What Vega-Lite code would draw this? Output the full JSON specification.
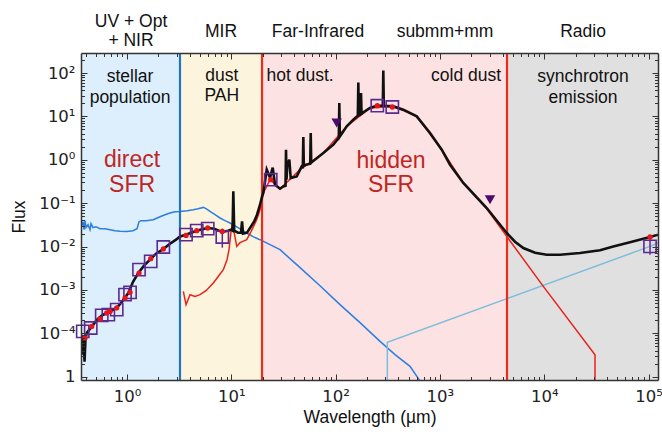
{
  "$schema": "https://vega.github.io/schema/vega-lite/v6.json",
  "width": 577,
  "height": 327,
  "autosize": {"type": "none"},
  "padding": {"left": 81, "top": 53, "right": 4, "bottom": 67},
  "background": "white",
  "config": {"view": {"stroke": null}, "font": "Liberation Sans"},
  "datasets": {
    "regions": [
      {"w": 0.3, "w2": 3.22, "r": "a"},
      {"w": 3.22, "w2": 19.7, "r": "b"},
      {"w": 19.7, "w2": 4400, "r": "c"},
      {"w": 4400, "w2": 200000, "r": "d"}
    ],
    "vlines": [
      {"w": 3.22, "k": "b"},
      {"w": 19.7, "k": "r"},
      {"w": 4400, "k": "r"}
    ],
    "curves": [
      {"c":"star","i":1,"w":0.3664,"f":0.03031},{"c":"star","i":2,"w":0.3787,"f":0.03746},{"c":"star","i":3,"w":0.3871,"f":0.02451},{"c":"star","i":4,"w":0.3957,"f":0.03952},{"c":"star","i":5,"w":0.4045,"f":0.02726},{"c":"star","i":6,"w":0.4227,"f":0.03196},{"c":"star","i":7,"w":0.4417,"f":0.02451},{"c":"star","i":8,"w":0.4516,"f":0.0337},{"c":"star","i":9,"w":0.4721,"f":0.02726},{"c":"star","i":10,"w":0.5044,"f":0.02874},{"c":"star","i":11,"w":0.5509,"f":0.02585},{"c":"star","i":12,"w":0.6153,"f":0.02585},{"c":"star","i":13,"w":0.6871,"f":0.02451},{"c":"star","i":14,"w":0.7672,"f":0.02325},{"c":"star","i":15,"w":0.8568,"f":0.02263},{"c":"star","i":16,"w":0.9934,"f":0.02239},{"c":"star","i":17,"w":1.142,"f":0.02325},{"c":"star","i":18,"w":1.247,"f":0.02585},{"c":"star","i":19,"w":1.303,"f":0.03746},{"c":"star","i":20,"w":1.362,"f":0.03952},{"c":"star","i":21,"w":1.521,"f":0.03952},{"c":"star","i":22,"w":1.787,"f":0.04167},{"c":"star","i":23,"w":2.072,"f":0.04886},{"c":"star","i":24,"w":2.313,"f":0.05433},{"c":"star","i":25,"w":2.584,"f":0.05942},{"c":"star","i":26,"w":2.885,"f":0.06369},{"c":"star","i":27,"w":3.223,"f":0.06474},{"c":"star","i":28,"w":3.761,"f":0.06719},{"c":"star","i":29,"w":4.322,"f":0.07085},{"c":"star","i":30,"w":4.795,"f":0.07468},{"c":"star","i":31,"w":5.389,"f":0.07998},{"c":"star","i":32,"w":5.72,"f":0.07468},{"c":"star","i":33,"w":6.248,"f":0.06474},{"c":"star","i":34,"w":6.98,"f":0.05433},{"c":"star","i":35,"w":7.793,"f":0.0456},{"c":"star","i":36,"w":8.701,"f":0.03952},{"c":"star","i":37,"w":9.716,"f":0.03497},{"c":"star","i":38,"w":11.6,"f":0.02726},{"c":"star","i":39,"w":14.05,"f":0.02058},{"c":"star","i":40,"w":16.15,"f":0.0169},{"c":"star","i":41,"w":18.85,"f":0.01442},{"c":"star","i":42,"w":23.5,"f":0.01106},{"c":"star","i":43,"w":29.31,"f":0.00848},{"c":"star","i":44,"w":45.59,"f":0.003266},{"c":"star","i":45,"w":70.86,"f":0.001257},{"c":"star","i":46,"w":110.2,"f":0.000459},{"c":"star","i":47,"w":171.3,"f":0.0001767},{"c":"star","i":48,"w":266.6,"f":0.0000654},{"c":"star","i":49,"w":371.1,"f":0.0000323},{"c":"star","i":50,"w":516.7,"f":0.0000174},{"c":"star","i":51,"w":644.6,"f":0.000008},
      {"c":"sync","i":1,"w":313.1,"f":0.000005},{"c":"sync","i":2,"w":313.1,"f":0.000062},{"c":"sync","i":3,"w":103400,"f":0.01011},{"c":"sync","i":4,"w":123300,"f":0.01211},
      {"c":"dust","i":1,"w":3.466,"f":0.000928},{"c":"dust","i":2,"w":3.679,"f":0.000459},{"c":"dust","i":3,"w":3.845,"f":0.000598},{"c":"dust","i":4,"w":4.018,"f":0.000779},{"c":"dust","i":5,"w":4.487,"f":0.000712},{"c":"dust","i":6,"w":5.011,"f":0.000779},{"c":"dust","i":7,"w":5.72,"f":0.000963},{"c":"dust","i":8,"w":6.722,"f":0.00145},{"c":"dust","i":9,"w":7.457,"f":0.00202},{"c":"dust","i":10,"w":8.38,"f":0.00294},{"c":"dust","i":11,"w":9.095,"f":0.00499},{"c":"dust","i":12,"w":9.505,"f":0.00848},{"c":"dust","i":13,"w":9.933,"f":0.02204},{"c":"dust","i":14,"w":10.27,"f":0.0337},{"c":"dust","i":15,"w":10.61,"f":0.02204},{"c":"dust","i":16,"w":11.27,"f":0.01011},{"c":"dust","i":17,"w":12.12,"f":0.0123},{"c":"dust","i":18,"w":14.05,"f":0.01442},{"c":"dust","i":19,"w":15.45,"f":0.02204},{"c":"dust","i":20,"w":17.52,"f":0.04167},{"c":"dust","i":21,"w":18.85,"f":0.07085},{"c":"dust","i":22,"w":20.27,"f":0.1718},{"c":"dust","i":23,"w":23.5,"f":0.3478},{"c":"dust","i":24,"w":29.31,"f":0.2158},{"c":"dust","i":25,"w":45.59,"f":0.5912},{"c":"dust","i":26,"w":76.23,"f":1.435},{"c":"dust","i":27,"w":127.8,"f":5.883},{"c":"dust","i":28,"w":213.7,"f":15.62},{"c":"dust","i":29,"w":357.5,"f":17.0},{"c":"dust","i":30,"w":599.3,"f":10.0},{"c":"dust","i":31,"w":1041,"f":1.709},{"c":"dust","i":32,"w":1676,"f":0.292},{"c":"dust","i":33,"w":2810,"f":0.0747},{"c":"dust","i":34,"w":4371,"f":0.01718},{"c":"dust","i":35,"w":9804,"f":0.00121},{"c":"dust","i":36,"w":30690,"f":0.0000323},{"c":"dust","i":37,"w":30690,"f":0.000005},
      {"c":"tot","i":1,"w":0.3664,"f":0.0000933},{"c":"tot","i":2,"w":0.3745,"f":0.0000323},{"c":"tot","i":3,"w":0.3829,"f":0.0000716},{"c":"tot","i":4,"w":0.3914,"f":0.0000223},{"c":"tot","i":5,"w":0.4001,"f":0.0000796},{"c":"tot","i":6,"w":0.4135,"f":0.000104},{"c":"tot","i":7,"w":0.4587,"f":0.000143},{"c":"tot","i":8,"w":0.5157,"f":0.000207},{"c":"tot","i":9,"w":0.5721,"f":0.000256},{"c":"tot","i":10,"w":0.6387,"f":0.000295},{"c":"tot","i":11,"w":0.7024,"f":0.000333},{"c":"tot","i":12,"w":0.7965,"f":0.000385},{"c":"tot","i":13,"w":0.8955,"f":0.000538},{"c":"tot","i":14,"w":1.029,"f":0.000853},{"c":"tot","i":15,"w":1.142,"f":0.00155},{"c":"tot","i":16,"w":1.283,"f":0.00246},{"c":"tot","i":17,"w":1.455,"f":0.00363},{"c":"tot","i":18,"w":1.662,"f":0.00499},{"c":"tot","i":19,"w":1.897,"f":0.00686},{"c":"tot","i":20,"w":2.229,"f":0.00881},{"c":"tot","i":21,"w":2.584,"f":0.01166},{"c":"tot","i":22,"w":2.95,"f":0.01442},{"c":"tot","i":23,"w":3.223,"f":0.01718},{"c":"tot","i":24,"w":3.679,"f":0.0188},{"c":"tot","i":25,"w":4.108,"f":0.02091},{"c":"tot","i":26,"w":4.659,"f":0.02325},{"c":"tot","i":27,"w":5.237,"f":0.02517},{"c":"tot","i":28,"w":6.018,"f":0.02683},{"c":"tot","i":29,"w":6.827,"f":0.02585},{"c":"tot","i":30,"w":7.623,"f":0.02325},{"c":"tot","i":31,"w":8.38,"f":0.02204},{"c":"tot","i":32,"w":9.298,"f":0.02325},{"c":"tot","i":33,"w":9.933,"f":0.02451},{"c":"tot","i":34,"w":10.27,"f":0.02325},{"c":"tot","i":35,"w":10.45,"f":0.187},{"c":"tot","i":36,"w":10.66,"f":0.02325},{"c":"tot","i":37,"w":11.6,"f":0.02091},{"c":"tot","i":38,"w":12.39,"f":0.02091},{"c":"tot","i":39,"w":12.67,"f":0.03806},{"c":"tot","i":40,"w":12.95,"f":0.01983},{"c":"tot","i":41,"w":14.14,"f":0.02091},{"c":"tot","i":42,"w":15.11,"f":0.02683},{"c":"tot","i":43,"w":16.51,"f":0.03746},{"c":"tot","i":44,"w":17.64,"f":0.05433},{"c":"tot","i":45,"w":18.85,"f":0.09236},{"c":"tot","i":46,"w":19.7,"f":0.1412},{"c":"tot","i":47,"w":20.27,"f":0.1718},{"c":"tot","i":48,"w":21.85,"f":0.5912},{"c":"tot","i":49,"w":23.5,"f":0.387},{"c":"tot","i":50,"w":24.94,"f":0.6577},{"c":"tot","i":51,"w":26.24,"f":0.2668},{"c":"tot","i":52,"w":29.31,"f":0.2158},{"c":"tot","i":53,"w":31.51,"f":0.2438},{"c":"tot","i":54,"w":33.09,"f":0.2531},{"c":"tot","i":55,"w":33.45,"f":1.7},{"c":"tot","i":56,"w":33.82,"f":0.3478},{"c":"tot","i":57,"w":34.43,"f":0.771},{"c":"tot","i":58,"w":35.98,"f":1.005},{"c":"tot","i":59,"w":37.11,"f":0.3808},{"c":"tot","i":60,"w":42.37,"f":0.4145},{"c":"tot","i":61,"w":47.32,"f":0.7047},{"c":"tot","i":62,"w":48.48,"f":0.6936},{"c":"tot","i":63,"w":49.02,"f":3.353},{"c":"tot","i":64,"w":49.56,"f":0.731},{"c":"tot","i":65,"w":52.03,"f":0.771},{"c":"tot","i":66,"w":57.07,"f":0.813},{"c":"tot","i":67,"w":57.7,"f":4.145},{"c":"tot","i":68,"w":58.35,"f":0.858},{"c":"tot","i":69,"w":76.23,"f":1.435},{"c":"tot","i":70,"w":95.05,"f":2.228},{"c":"tot","i":71,"w":107.3,"f":3.23},{"c":"tot","i":72,"w":108.5,"f":20.4},{"c":"tot","i":73,"w":109.7,"f":3.406},{"c":"tot","i":74,"w":127.8,"f":5.883},{"c":"tot","i":75,"w":147.8,"f":8.395},{"c":"tot","i":76,"w":163.3,"f":10.38},{"c":"tot","i":77,"w":165.1,"f":60.7},{"c":"tot","i":78,"w":166.9,"f":10.66},{"c":"tot","i":79,"w":173.3,"f":11.24},{"c":"tot","i":80,"w":175.2,"f":34.6},{"c":"tot","i":81,"w":177.2,"f":11.54},{"c":"tot","i":82,"w":184.3,"f":12.37},{"c":"tot","i":83,"w":213.7,"f":15.62},{"c":"tot","i":84,"w":247.8,"f":17.64},{"c":"tot","i":85,"w":283.5,"f":17.64},{"c":"tot","i":86,"w":286.6,"f":114.8},{"c":"tot","i":87,"w":289.8,"f":17.64},{"c":"tot","i":88,"w":357.5,"f":17.0},{"c":"tot","i":89,"w":445.8,"f":14.27},{"c":"tot","i":90,"w":599.3,"f":10.0},{"c":"tot","i":91,"w":803.9,"f":4.145},{"c":"tot","i":92,"w":1041,"f":1.709},{"c":"tot","i":93,"w":1250,"f":0.771},{"c":"tot","i":94,"w":1676,"f":0.292},{"c":"tot","i":95,"w":2810,"f":0.0775},{"c":"tot","i":96,"w":4371,"f":0.02058},{"c":"tot","i":97,"w":5248,"f":0.01297},{"c":"tot","i":98,"w":6303,"f":0.00928},{"c":"tot","i":99,"w":8163,"f":0.00723},{"c":"tot","i":100,"w":10570,"f":0.00651},{"c":"tot","i":101,"w":14170,"f":0.00651},{"c":"tot","i":102,"w":22040,"f":0.00712},{"c":"tot","i":103,"w":34280,"f":0.00826},{"c":"tot","i":104,"w":45970,"f":0.01011},{"c":"tot","i":105,"w":66460,"f":0.01263},{"c":"tot","i":106,"w":103400,"f":0.01664},{"c":"tot","i":107,"w":123300,"f":0.0188}
    ],
    "phot": [
      {"w":0.3762,"f":0.000111},{"w":0.4487,"f":0.000133},{"w":0.5721,"f":0.00026},{"w":0.6617,"f":0.00027},{"w":0.7965,"f":0.000352},{"w":0.9568,"f":0.000779},{"w":1.069,"f":0.000881},{"w":1.303,"f":0.00294},{"w":1.687,"f":0.00456},{"w":2.229,"f":0.00979},{"w":3.679,"f":0.0188},{"w":4.659,"f":0.02325},{"w":5.939,"f":0.02585},{"w":8.197,"f":0.01664},{"w":23.87,"f":0.3478},{"w":251.1,"f":17.64},{"w":349.7,"f":16.47},{"w":103400,"f":0.01011}
    ],
    "dots": [
      {"w":0.3957,"f":0.0000783},{"w":0.4587,"f":0.000145},{"w":0.5509,"f":0.000215},{"w":0.6387,"f":0.000295},{"w":0.6871,"f":0.000321},{"w":0.7965,"f":0.000385},{"w":0.9568,"f":0.000654},{"w":1.069,"f":0.000881},{"w":1.303,"f":0.00246},{"w":1.687,"f":0.00526},{"w":2.229,"f":0.00881},{"w":3.679,"f":0.01811},{"w":4.659,"f":0.02325},{"w":5.939,"f":0.02683},{"w":8.197,"f":0.02239},{"w":23.87,"f":0.3478},{"w":251.1,"f":17.64},{"w":349.7,"f":16.47},{"w":103400,"f":0.01664}
    ],
    "err": [
      {"w":8.197,"f":0.02585,"f2":0.00944},{"w":103400,"f":0.0152,"f2":0.00651}
    ],
    "uplim": [
      {"w":102.4,"f":7.046},{"w":3022,"f":0.1204}
    ],
    "labels": [
      {"t":"stellar","w":1.069,"f":82.2,"g":"reg"},
      {"t":"population","w":1.069,"f":26.97,"g":"reg"},
      {"t":"dust","w":8.09,"f":86.7,"g":"reg"},
      {"t":"PAH","w":8.09,"f":29.99,"g":"reg"},
      {"t":"hot dust.","w":45.59,"f":86.7,"g":"reg"},
      {"t":"cold dust","w":1780,"f":86.7,"g":"reg"},
      {"t":"synchrotron","w":23550,"f":82.2,"g":"reg"},
      {"t":"emission","w":23550,"f":26.97,"g":"reg"},
      {"t":"direct","w":1.117,"f":1.005,"g":"sfr"},
      {"t":"SFR","w":1.117,"f":0.2668,"g":"sfr"},
      {"t":"hidden","w":339.8,"f":0.953,"g":"sfr"},
      {"t":"SFR","w":339.8,"f":0.2668,"g":"sfr"},
      {"t":"UV + Opt","w":1.092,"f":1521,"g":"band"},
      {"t":"+ NIR","w":1.092,"f":554.6,"g":"band"},
      {"t":"MIR","w":7.96,"f":894.7,"g":"band"},
      {"t":"Far-Infrared","w":67.8,"f":894.7,"g":"band"},
      {"t":"submm+mm","w":1119,"f":894.7,"g":"band"},
      {"t":"Radio","w":23550,"f":894.7,"g":"band"}
    ]
  },
  "layer": [
    {
      "encoding": {
        "x": {
          "field": "w", "type": "quantitative",
          "scale": {"type": "log", "domain": [0.362, 123300], "nice": false, "zero": false},
          "axis": {
            "title": "Wavelength (µm)", "titleFont": "Liberation Sans", "titleFontSize": 17.5, "titleFontWeight": "normal", "titleColor": "#111", "titlePadding": 1,
            "values": [0.4,0.5,0.6,0.7,0.8,0.9,1,2,3,4,5,6,7,8,9,10,20,30,40,50,60,70,80,90,100,200,300,400,500,600,700,800,900,1000,2000,3000,4000,5000,6000,7000,8000,9000,10000,20000,30000,40000,50000,60000,70000,80000,90000,100000],
            "labelExpr": "datum.value == 1 ? '10⁰' : datum.value == 10 ? '10¹' : datum.value == 100 ? '10²' : datum.value == 1000 ? '10³' : datum.value == 10000 ? '10⁴' : datum.value == 100000 ? '10⁵' : ''",
            "labelFont": "DejaVu Sans", "labelFontSize": 16.5, "labelColor": "#222", "labelPadding": 14, "labelFlush": false, "labelOverlap": false, "labelBound": false,
            "tickSize": {"condition": {"test": "abs(log(datum.value)/LN10 - round(log(datum.value)/LN10)) < 0.000001", "value": -6}, "value": -3.5},
            "tickColor": "#333", "tickWidth": 1,
            "domain": true, "domainColor": "#333", "domainWidth": 1.5,
            "grid": false, "zindex": 1
          }
        }
      },
      "layer": [
        {
          "data": {"name": "regions"},
          "mark": {"type": "rect", "clip": true},
          "encoding": {
            "x2": {"field": "w2"},
            "color": {"field": "r", "type": "nominal", "scale": {"domain": ["a","b","c","d"], "range": ["#ddeffc","#fdf4dd","#fce2e2","#e0e0e0"]}, "legend": null}
          }
        },
        {
          "data": {"name": "curves"},
          "transform": [{"filter": "datum.c == 'star'"}],
          "mark": {"type": "line", "clip": true, "color": "#2a7fe0", "strokeWidth": 1.5},
          "encoding": {
            "y": {
              "field": "f", "type": "quantitative",
              "scale": {"type": "log", "domain": [0.00000843, 289], "nice": false, "zero": false},
              "axis": {
                "title": "Flux", "titleFont": "Liberation Sans", "titleFontSize": 17.5, "titleFontWeight": "normal", "titleColor": "#111", "titlePadding": 10,
                "values": [0.00001,0.00002,0.00003,0.00004,0.00005,0.00006,0.00007,0.00008,0.00009,0.0001,0.0002,0.0003,0.0004,0.0005,0.0006,0.0007,0.0008,0.0009,0.001,0.002,0.003,0.004,0.005,0.006,0.007,0.008,0.009,0.01,0.02,0.03,0.04,0.05,0.06,0.07,0.08,0.09,0.1,0.2,0.3,0.4,0.5,0.6,0.7,0.8,0.9,1,2,3,4,5,6,7,8,9,10,20,30,40,50,60,70,80,90,100,200],
                "labelExpr": "datum.value == 100 ? '10²' : datum.value == 10 ? '10¹' : datum.value == 1 ? '10⁰' : datum.value == 0.1 ? '10⁻¹' : datum.value == 0.01 ? '10⁻²' : datum.value == 0.001 ? '10⁻³' : datum.value == 0.0001 ? '10⁻⁴' : datum.value == 0.00001 ? '1' : ''",
                "labelFont": "DejaVu Sans", "labelFontSize": 16.5, "labelColor": "#222", "labelPadding": 12, "labelFlush": false, "labelOverlap": false, "labelBound": false,
                "tickSize": {"condition": {"test": "abs(log(datum.value)/LN10 - round(log(datum.value)/LN10)) < 0.000001", "value": -6}, "value": -3.5},
                "tickColor": "#333", "tickWidth": 1,
                "domain": true, "domainColor": "#333", "domainWidth": 1.5,
                "grid": false, "zindex": 1
              }
            },
            "order": {"field": "i", "type": "quantitative"}
          }
        },
        {
          "data": {"name": "curves"},
          "transform": [{"filter": "datum.c == 'sync'"}],
          "mark": {"type": "line", "clip": true, "color": "#7dbcdc", "strokeWidth": 1.5},
          "encoding": {
            "y": {"field": "f", "type": "quantitative", "scale": {"type": "log", "domain": [0.00000843, 289], "nice": false, "zero": false}},
            "order": {"field": "i", "type": "quantitative"}
          }
        },
        {
          "data": {"name": "curves"},
          "transform": [{"filter": "datum.c == 'dust'"}],
          "mark": {"type": "line", "clip": true, "color": "#e8231b", "strokeWidth": 1.5},
          "encoding": {
            "y": {"field": "f", "type": "quantitative", "scale": {"type": "log", "domain": [0.00000843, 289], "nice": false, "zero": false}},
            "order": {"field": "i", "type": "quantitative"}
          }
        },
        {
          "data": {"name": "vlines"},
          "transform": [{"filter": "datum.k == 'b'"}],
          "mark": {"type": "rule", "color": "#1f77c4", "strokeWidth": 2.2},
          "encoding": {}
        },
        {
          "data": {"name": "vlines"},
          "transform": [{"filter": "datum.k == 'r'"}],
          "mark": {"type": "rule", "color": "#ee2a1b", "strokeWidth": 2.2},
          "encoding": {}
        },
        {
          "data": {"name": "curves"},
          "transform": [{"filter": "datum.c == 'tot'"}],
          "mark": {"type": "line", "clip": true, "color": "#111111", "strokeWidth": 2.6},
          "encoding": {
            "y": {"field": "f", "type": "quantitative", "scale": {"type": "log", "domain": [0.00000843, 289], "nice": false, "zero": false}},
            "order": {"field": "i", "type": "quantitative"}
          }
        },
        {
          "data": {"name": "err"},
          "mark": {"type": "rule", "color": "#5b2a90", "strokeWidth": 1.5},
          "encoding": {
            "y": {"field": "f", "type": "quantitative", "scale": {"type": "log", "domain": [0.00000843, 289], "nice": false, "zero": false}},
            "y2": {"field": "f2"}
          }
        },
        {
          "data": {"name": "phot"},
          "mark": {"type": "point", "shape": "square", "filled": false, "color": "#5b2a90", "strokeWidth": 1.6, "size": 150, "opacity": 1},
          "encoding": {
            "y": {"field": "f", "type": "quantitative", "scale": {"type": "log", "domain": [0.00000843, 289], "nice": false, "zero": false}}
          }
        },
        {
          "data": {"name": "dots"},
          "mark": {"type": "circle", "color": "#e8141c", "size": 28, "opacity": 1},
          "encoding": {
            "y": {"field": "f", "type": "quantitative", "scale": {"type": "log", "domain": [0.00000843, 289], "nice": false, "zero": false}}
          }
        },
        {
          "data": {"name": "uplim"},
          "mark": {"type": "point", "shape": "triangle-down", "filled": true, "color": "#4a0c70", "size": 110, "opacity": 1},
          "encoding": {
            "y": {"field": "f", "type": "quantitative", "scale": {"type": "log", "domain": [0.00000843, 289], "nice": false, "zero": false}}
          }
        },
        {
          "data": {"name": "labels"},
          "transform": [{"filter": "datum.g == 'reg'"}],
          "mark": {"type": "text", "font": "Liberation Sans", "fontSize": 17.5, "color": "#111", "align": "center", "baseline": "middle"},
          "encoding": {
            "y": {"field": "f", "type": "quantitative", "scale": {"type": "log", "domain": [0.00000843, 289], "nice": false, "zero": false}},
            "text": {"field": "t"}
          }
        },
        {
          "data": {"name": "labels"},
          "transform": [{"filter": "datum.g == 'sfr'"}],
          "mark": {"type": "text", "font": "Liberation Sans", "fontSize": 23, "color": "#c0261f", "align": "center", "baseline": "middle"},
          "encoding": {
            "y": {"field": "f", "type": "quantitative", "scale": {"type": "log", "domain": [0.00000843, 289], "nice": false, "zero": false}},
            "text": {"field": "t"}
          }
        },
        {
          "data": {"name": "labels"},
          "transform": [{"filter": "datum.g == 'band'"}],
          "mark": {"type": "text", "font": "Liberation Sans", "fontSize": 17.5, "color": "#111", "align": "center", "baseline": "middle"},
          "encoding": {
            "y": {"field": "f", "type": "quantitative", "scale": {"type": "log", "domain": [0.00000843, 289], "nice": false, "zero": false}},
            "text": {"field": "t"}
          }
        }
      ]
    },
    {
      "data": {"name": "uplim"},
      "mark": {"type": "point", "opacity": 0},
      "encoding": {
        "x": {
          "field": "w", "type": "quantitative",
          "scale": {"type": "log", "domain": [0.362, 123300], "nice": false, "zero": false},
          "axis": {
            "orient": "top", "title": null, "labels": false,
            "values": [0.4,0.5,0.6,0.7,0.8,0.9,1,2,3,4,5,6,7,8,9,10,20,30,40,50,60,70,80,90,100,200,300,400,500,600,700,800,900,1000,2000,3000,4000,5000,6000,7000,8000,9000,10000,20000,30000,40000,50000,60000,70000,80000,90000,100000],
            "tickSize": {"condition": {"test": "abs(log(datum.value)/LN10 - round(log(datum.value)/LN10)) < 0.000001", "value": -6}, "value": -3.5},
            "tickColor": "#333", "tickWidth": 1,
            "domain": true, "domainColor": "#333", "domainWidth": 1.5,
            "grid": false, "zindex": 1
          }
        },
        "y": {
          "field": "f", "type": "quantitative",
          "scale": {"type": "log", "domain": [0.00000843, 289], "nice": false, "zero": false},
          "axis": {
            "orient": "right", "title": null, "labels": false,
            "values": [0.00001,0.00002,0.00003,0.00004,0.00005,0.00006,0.00007,0.00008,0.00009,0.0001,0.0002,0.0003,0.0004,0.0005,0.0006,0.0007,0.0008,0.0009,0.001,0.002,0.003,0.004,0.005,0.006,0.007,0.008,0.009,0.01,0.02,0.03,0.04,0.05,0.06,0.07,0.08,0.09,0.1,0.2,0.3,0.4,0.5,0.6,0.7,0.8,0.9,1,2,3,4,5,6,7,8,9,10,20,30,40,50,60,70,80,90,100,200],
            "tickSize": {"condition": {"test": "abs(log(datum.value)/LN10 - round(log(datum.value)/LN10)) < 0.000001", "value": -6}, "value": -3.5},
            "tickColor": "#333", "tickWidth": 1,
            "domain": true, "domainColor": "#333", "domainWidth": 1.5,
            "grid": false, "zindex": 1
          }
        }
      }
    }
  ],
  "resolve": {"axis": {"x": "independent", "y": "independent"}}
}
